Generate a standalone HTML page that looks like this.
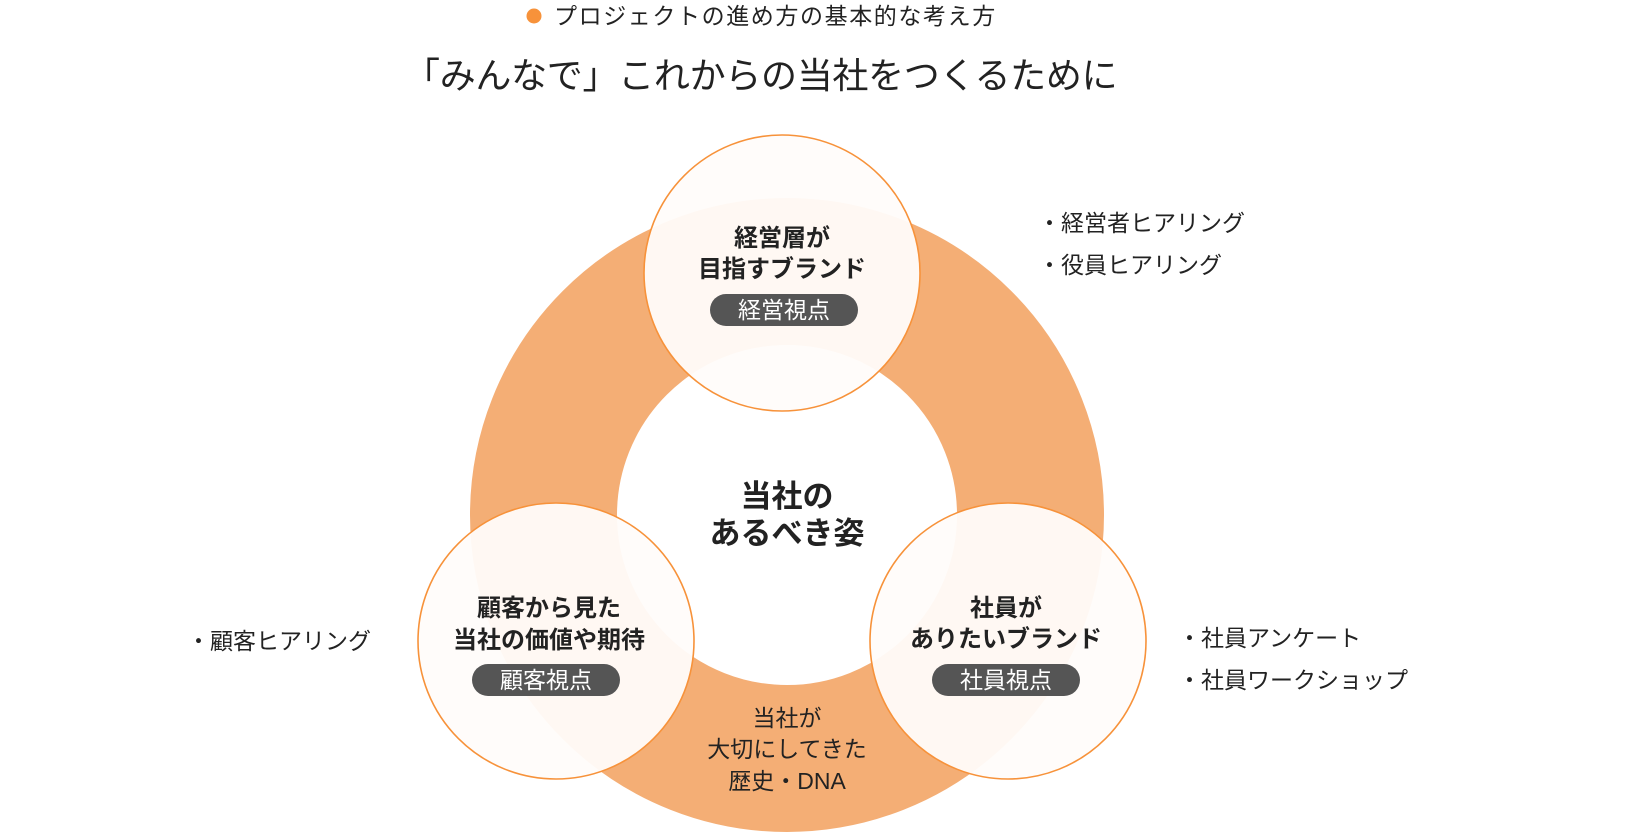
<!DOCTYPE html>
<html><head><meta charset="utf-8"><style>
html,body{margin:0;padding:0;background:#fff;}
svg{display:block;}
text{font-family:"Liberation Sans","Noto Sans CJK JP",sans-serif;fill:#222;}
</style></head><body>
<svg width="1648" height="838" viewBox="0 0 1648 838" xmlns="http://www.w3.org/2000/svg">
<circle cx="534" cy="16" r="7.5" fill="#f7923a"/>
<text x="554" y="24" font-size="23" letter-spacing="1.6">プロジェクトの進め方の基本的な考え方</text>
<text x="404" y="88" font-size="36" letter-spacing="-0.3">「みんなで」これからの当社をつくるために</text>

<circle cx="787" cy="515" r="243.5" fill="none" stroke="#f4ae75" stroke-width="147"/>

<g fill="#fffcfa" fill-opacity="0.95" stroke="#f7923a" stroke-width="1.6">
<circle cx="782" cy="273" r="138"/>
<circle cx="556" cy="641" r="138"/>
<circle cx="1008" cy="641" r="138"/>
</g>

<g font-weight="bold" font-size="24" text-anchor="middle">
<text x="782" y="246">経営層が</text>
<text x="782" y="277">目指すブランド</text>
<text x="549" y="616">顧客から見た</text>
<text x="549" y="648">当社の価値や期待</text>
<text x="1006" y="616">社員が</text>
<text x="1006" y="647">ありたいブランド</text>
<text x="787" y="507" font-size="31">当社の</text>
<text x="787" y="544" font-size="31">あるべき姿</text>
</g>

<g fill="#555">
<rect x="710" y="294" width="148" height="32" rx="16"/>
<rect x="472" y="664" width="148" height="32" rx="16"/>
<rect x="932" y="664" width="148" height="32" rx="16"/>
</g>
<g font-size="23" text-anchor="middle">
<text x="784" y="318" style="fill:#fff">経営視点</text>
<text x="546" y="688" style="fill:#fff">顧客視点</text>
<text x="1006" y="688" style="fill:#fff">社員視点</text>
</g>

<g font-size="23" text-anchor="middle">
<text x="787" y="726">当社が</text>
<text x="787" y="757">大切にしてきた</text>
<text x="787" y="789">歴史・DNA</text>
</g>

<g font-size="23">
<text x="1038" y="231">・経営者ヒアリング</text>
<text x="1038" y="273">・役員ヒアリング</text>
<text x="187" y="649">・顧客ヒアリング</text>
<text x="1178" y="646">・社員アンケート</text>
<text x="1178" y="688">・社員ワークショップ</text>
</g>
</svg>
</body></html>
